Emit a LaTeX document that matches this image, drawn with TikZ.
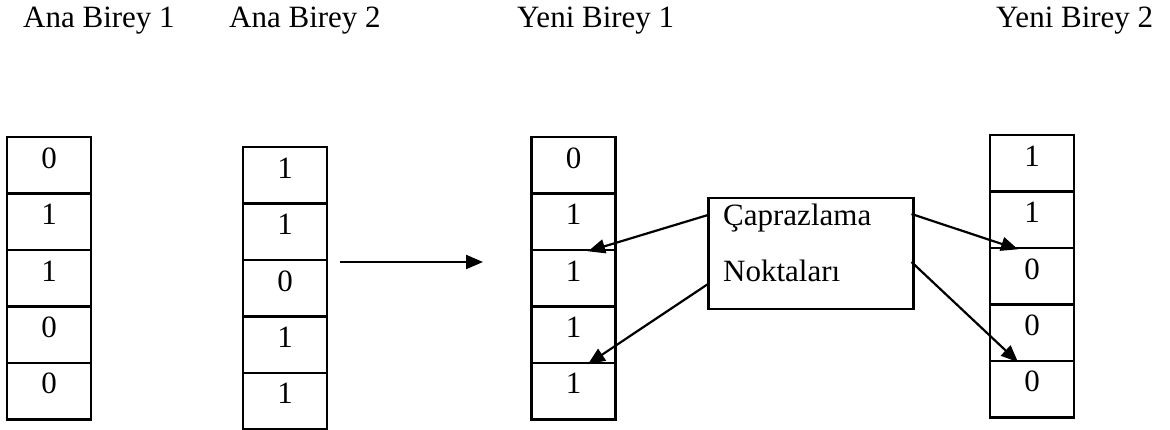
\documentclass[tikz,border=0pt]{standalone}
\usepackage{fontspec}
\setmainfont{Liberation Serif}
\usetikzlibrary{arrows.meta,calc}
\begin{document}
\begin{tikzpicture}[x=1pt,y=-1pt,
  every node/.style={font=\fontsize{31}{37}\selectfont},
  cell/.style={draw, line width=2.5pt, minimum width=84pt, minimum height=56.4pt,
    inner ysep=0pt, text height=31pt, text depth=25.4pt, anchor=north},
  title/.style={anchor=base west, inner sep=0pt},
  txt/.style={anchor=base west, inner sep=0pt},
  crossbox/.style={draw, line width=2.5pt, minimum width=205pt, minimum height=111pt, anchor=north west, inner sep=0pt},
  arr/.style={line width=2.2pt, -{Triangle[length=17pt,width=14pt]}}]
\useasboundingbox (0,0) rectangle (1170,430);
% titles
\node[title] (t1) at (23,28) {Ana Birey 1};
\node[title] (t2) at (229,28) {Ana Birey 2};
\node[title] (t3) at (517,28) {Yeni Birey 1};
\node[title] (t4) at (996,28) {Yeni Birey 2};
% Ana Birey 1
\node[cell] (a1) at (49,136) {0};
\node[cell] (a2) at (49,192.4) {1};
\node[cell] (a3) at (49,248.8) {1};
\node[cell] (a4) at (49,305.2) {0};
\node[cell] (a5) at (49,361.6) {0};
% Ana Birey 2
\node[cell] (b1) at (285,146) {1};
\node[cell] (b2) at (285,202.4) {1};
\node[cell] (b3) at (285,258.8) {0};
\node[cell] (b4) at (285,315.2) {1};
\node[cell] (b5) at (285,371.6) {1};
% Yeni Birey 1
\node[cell] (c1) at (573.5,136) {0};
\node[cell] (c2) at (573.5,192.4) {1};
\node[cell] (c3) at (573.5,248.8) {1};
\node[cell] (c4) at (573.5,305.2) {1};
\node[cell] (c5) at (573.5,361.6) {1};
% Yeni Birey 2
\node[cell] (d1) at (1032,134) {1};
\node[cell] (d2) at (1032,190.4) {1};
\node[cell] (d3) at (1032,246.8) {0};
\node[cell] (d4) at (1032,303.2) {0};
\node[cell] (d5) at (1032,359.6) {0};
% crossover box
\node[crossbox] (cx) at (707,197) {};
\node[txt] (cx1) at (723,226) {Çaprazlama};
\node[txt] (cx2) at (723,282) {Noktaları};
% middle arrow
\coordinate (m1) at (340,262);
\coordinate (m2) at (483,262);
\draw[arr] (m1) -- (m2);
% crossover arrows
\draw[arr] ($(cx.north west)+(1,18)$) -- ($(c2.south)+(14.5,0)$);
\draw[arr] ($(cx.north west)+(1,87)$) -- ($(c4.south)+(14.5,0)$);
\draw[arr] ($(cx.north east)+(-3,17)$) -- ($(d2.south)+(-14,0)$);
\draw[arr] ($(cx.north east)+(-3,65)$) -- ($(d4.south)+(-14,0)$);
\end{tikzpicture}
\end{document}
